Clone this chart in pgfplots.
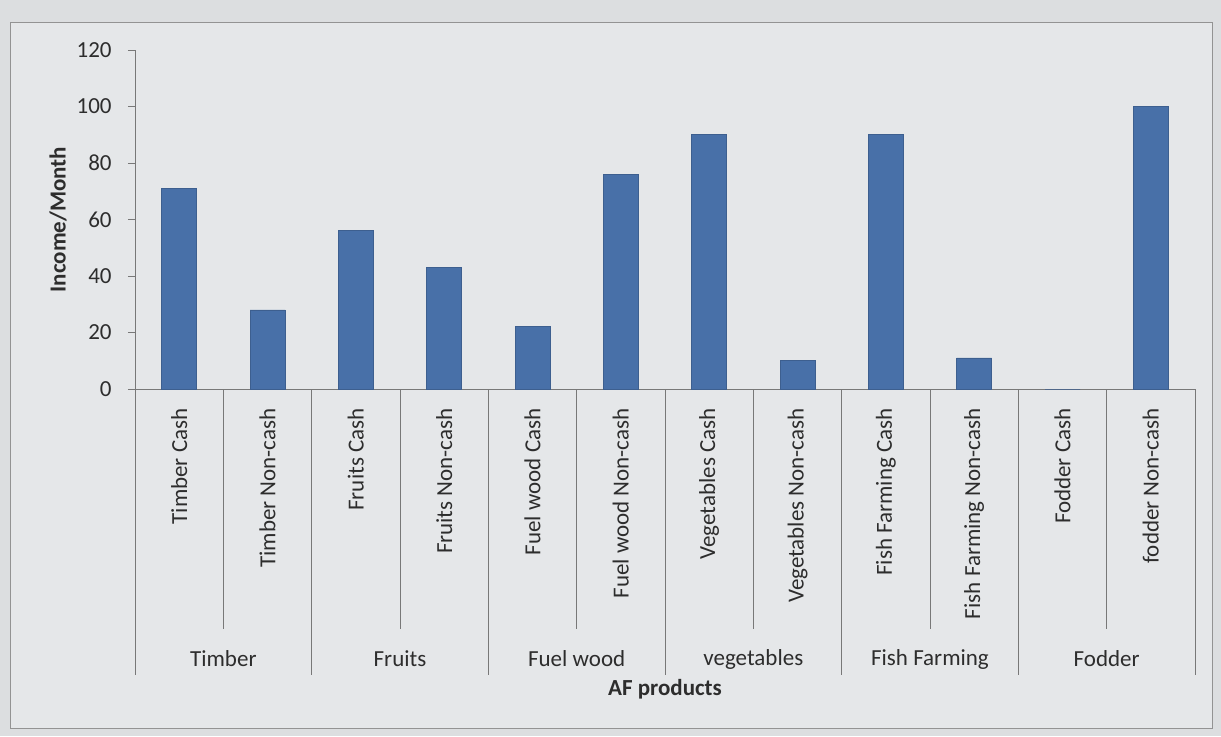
\documentclass[border=0pt]{standalone}
\usepackage{fontspec}
\setmainfont{Carlito}
\usepackage{pgfplots}
\pgfplotsset{compat=1.18}

\definecolor{barblue}{RGB}{72,112,168}
\definecolor{paper}{RGB}{229,231,233}
\definecolor{linegray}{RGB}{120,120,120}
\definecolor{txt}{RGB}{45,45,45}

\begin{document}
\begin{tikzpicture}
\useasboundingbox (0pt,0pt) rectangle (610.5pt,368pt);
\fill[paper!96!black] (0pt,0pt) rectangle (610.5pt,368pt);
\draw[linegray!80, fill=paper] (5pt,4pt) rectangle (606pt,357pt);
\begin{axis}[
  at={(67.5pt,173.5pt)}, anchor=south west,
  scale only axis, width=530pt, height=169.5pt,
  xmin=-0.5, xmax=11.5, ymin=0, ymax=120,
  axis lines*=left,
  axis line style={-, linegray},
  ytick={0,20,...,120},
  tick align=outside,
  major tick length=3.5pt,
  ytick style={linegray},
  xtick={0,...,11},
  xtick style={draw=none},
  xticklabels={Timber Cash, Timber Non-cash, Fruits Cash, Fruits Non-cash,
    Fuel wood Cash, Fuel wood Non-cash, Vegetables Cash, Vegetables Non-cash,
    Fish Farming Cash, Fish Farming Non-cash, Fodder Cash, fodder Non-cash},
  xticklabel style={rotate=90, anchor=east, inner sep=6pt},
  ticklabel style={font=\fontsize{11.5}{13}\selectfont, text=txt},
  every y tick label/.append style={anchor=east, inner sep=8pt},
  /pgf/number format/assume math mode=true,
  ylabel={Income/Month},
  ylabel style={at={(axis description cs:-0.0726,0.5)}, anchor=center,
    font=\bfseries\fontsize{11.5}{13}\selectfont, text=txt},
  xlabel={AF products},
  xlabel style={at={(axis description cs:0.5,-0.885)}, anchor=center,
    font=\bfseries\fontsize{11.5}{13}\selectfont, text=txt},
  clip=false,
]
\addplot[ybar, bar width=17.5pt, fill=barblue, draw=barblue!85!black]
  coordinates {(0,71) (1,28) (2,56) (3,43) (4,22) (5,76)
               (6,90) (7,10) (8,90) (9,11) (10,0) (11,100)};

% category separators: short ones inside a group, long ones between groups
\pgfplotsinvokeforeach{0.5,2.5,4.5,6.5,8.5,10.5}{
  \draw[linegray] (axis cs:#1,0) -- ++(0pt,-120pt);
}
\pgfplotsinvokeforeach{-0.5,1.5,3.5,5.5,7.5,9.5,11.5}{
  \draw[linegray] (axis cs:#1,0) -- ++(0pt,-143pt);
}

% group names
\tikzset{grp/.style={font=\fontsize{11.5}{13}\selectfont, text=txt, yshift=-135pt}}
\node[grp] at (axis cs:0.5,0) {Timber};
\node[grp] at (axis cs:2.5,0) {Fruits};
\node[grp] at (axis cs:4.5,0) {Fuel wood};
\node[grp] at (axis cs:6.5,0) {vegetables};
\node[grp] at (axis cs:8.5,0) {Fish Farming};
\node[grp] at (axis cs:10.5,0) {Fodder};
\end{axis}
\end{tikzpicture}
\end{document}
